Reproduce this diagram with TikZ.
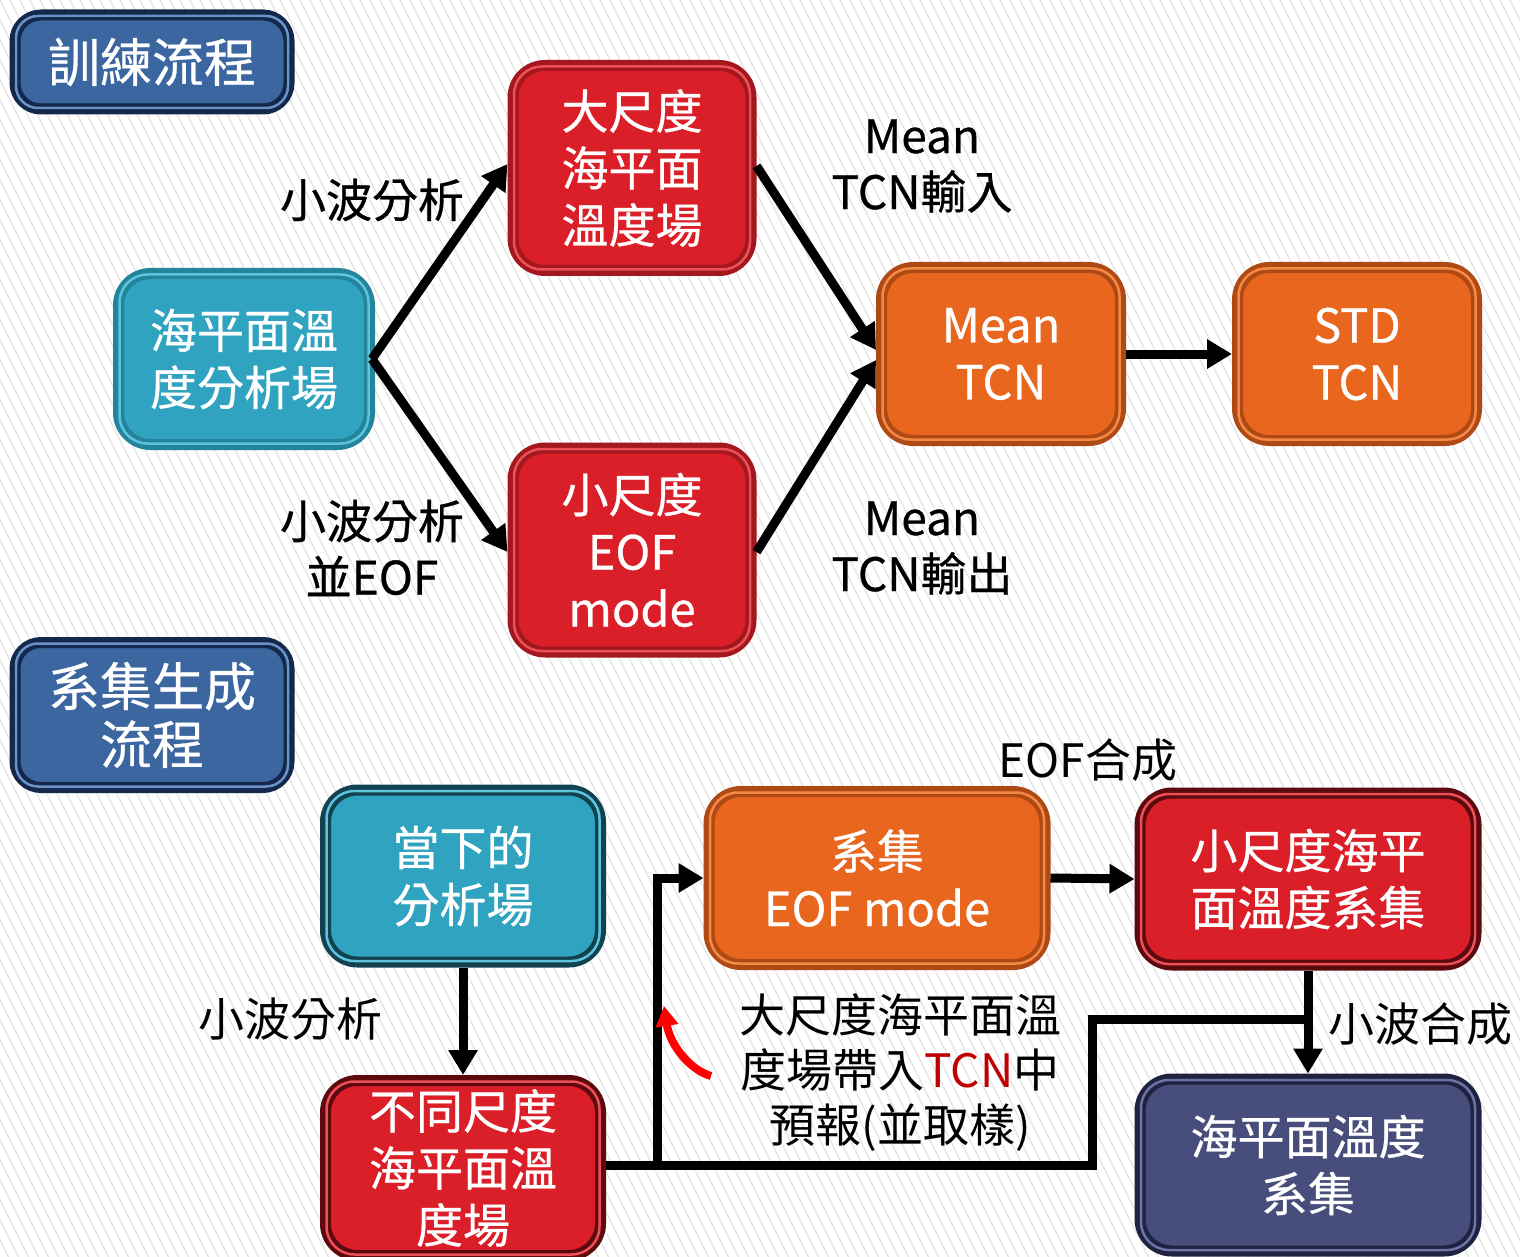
\documentclass[tikz,border=0pt]{standalone}
\usepackage{fontspec}
\setmainfont{Noto Sans CJK TC}
\newfontfamily\medf[FakeBold=0.6]{Noto Sans CJK TC}
\usetikzlibrary{arrows.meta}
\definecolor{cblue}{HTML}{3B66A0}
\definecolor{cbluedk}{HTML}{13284A}
\definecolor{cbluelt}{HTML}{6A93C8}
\definecolor{cteal}{HTML}{2FA3BF}
\definecolor{ctealdk}{HTML}{23849C}
\definecolor{ctealdd}{HTML}{12414F}
\definecolor{cteallt}{HTML}{5CC4DC}
\definecolor{cred}{HTML}{DA1F29}
\definecolor{creddk}{HTML}{A3171F}
\definecolor{creddd}{HTML}{5C0A0E}
\definecolor{credlt}{HTML}{EE5058}
\definecolor{corg}{HTML}{E8661E}
\definecolor{corgdk}{HTML}{B04A14}
\definecolor{corglt}{HTML}{F58A48}
\definecolor{cnavy}{HTML}{474E7C}
\definecolor{cnavydk}{HTML}{1F2240}
\definecolor{cnavylt}{HTML}{6C74A8}
\definecolor{chatch}{HTML}{E4E4E4}
\definecolor{tcnred}{HTML}{C00000}
\newcommand\boxdeco[4]{%
  \draw[#2, line width=2.5pt, rounded corners=#4] ([shift={(6.5,6.5)}]#1.north west) rectangle ([shift={(-6.5,-6.5)}]#1.south east);
  \draw[#3, line width=1.5pt, rounded corners=#4] ([shift={(9,9)}]#1.north west) rectangle ([shift={(-9,-9)}]#1.south east);
}
\begin{document}
\begin{tikzpicture}[x=1pt,y=-1pt,
  box/.style={rounded corners=32, line width=11pt, align=center, inner sep=0, text=white,
    font=\medf\fontsize{47}{57}\selectfont},
  titlebox/.style={box, rounded corners=26, font=\medf\fontsize{52}{58}\selectfont},
  lblmed/.style={align=center, inner sep=0, font=\medf\fontsize{46}{56}\selectfont},
  lbl/.style={align=center, inner sep=0, font=\fontsize{46}{55}\selectfont},
  arr/.style={line width=9pt, -{Triangle[length=25pt,width=28pt]}},
  conn/.style={line width=9pt},
  hatch/.style={chatch, line width=1.2pt}]
\useasboundingbox (0,0) rectangle (1520,1257);
\begin{scope}
  \clip (0,0) rectangle (1520,1257);
  \fill[white] (0,0) rectangle (1520,1257);
  \foreach \i in {-660,-650,...,1520} \draw[hatch] (\i,0) -- ++(650,1300);
\end{scope}

% ---------- training flow ----------
\node[titlebox, fill=cblue, draw=cbluedk, minimum width=274, minimum height=94] (t1) at (152,62) {訓練流程};
\boxdeco{t1}{cbluelt}{cbluedk}{22}

\node[box, fill=cteal, draw=ctealdk, minimum width=251, minimum height=171] (ana) at (244,359) {海平面溫\\度分析場};
\boxdeco{ana}{cteallt}{ctealdk}{28}

\node[box, fill=cred, draw=creddk, minimum width=238, minimum height=205] (large) at (632,168) {大尺度\\海平面\\溫度場};
\boxdeco{large}{credlt}{creddk}{28}

\node[box, fill=cred, draw=creddk, minimum width=238, minimum height=204] (small) at (632,550) {小尺度\\EOF\\mode};
\boxdeco{small}{credlt}{creddk}{28}

\node[box, fill=corg, draw=corgdk, minimum width=239, minimum height=173] (mean) at (1001,354) {Mean\\TCN};
\boxdeco{mean}{corglt}{corgdk}{28}

\node[box, fill=corg, draw=corgdk, minimum width=239, minimum height=173] (std) at (1357,354) {STD\\TCN};
\boxdeco{std}{corglt}{corgdk}{28}

\node[lblmed] (l1) at (372,200) {小波分析};
\node[lblmed] (l2) at (372,548) {小波分析\\並EOF};
\node[lblmed] (l3) at (922,166) {Mean\\TCN輸入};
\node[lblmed] (l4) at (922,548) {Mean\\TCN輸出};

\coordinate (aout) at ([xshift=-3]ana.east);
\draw[arr] (aout) -- ([yshift=4]large.west);
\draw[arr] (aout) -- ([yshift=-2]small.west);
\draw[arr] ([yshift=2]large.east) -- ([yshift=4]mean.west);
\draw[arr] ([yshift=-2]small.east) -- ([yshift=-6]mean.west);
\draw[arr] (mean.east) -- (std.west);

% ---------- ensemble flow ----------
\node[titlebox, fill=cblue, draw=cbluedk, minimum width=274, minimum height=145] (t2) at (152,715) {系集生成\\流程};
\boxdeco{t2}{cbluelt}{cbluedk}{22}

\node[box, fill=cteal, draw=ctealdd, minimum width=275, minimum height=172] (cur) at (463,876) {當下的\\分析場};
\boxdeco{cur}{cteallt}{ctealdd}{28}

\node[box, fill=cred, draw=creddd, minimum width=275, minimum height=175] (diff) at (463,1168) {不同尺度\\海平面溫\\度場};
\boxdeco{diff}{credlt}{creddd}{28}

\node[box, fill=corg, draw=corgdk, minimum width=336, minimum height=173] (ens) at (877,878) {系集\\EOF mode};
\boxdeco{ens}{corglt}{corgdk}{28}

\node[box, fill=cred, draw=creddd, minimum width=336, minimum height=172] (sss) at (1308,879) {小尺度海平\\面溫度系集};
\boxdeco{sss}{credlt}{creddd}{28}

\node[box, fill=cnavy, draw=cnavydk, minimum width=336, minimum height=172] (fin) at (1308,1165) {海平面溫度\\系集};
\boxdeco{fin}{cnavylt}{cnavydk}{28}

\node[lbl] (l5) at (1088,760) {EOF合成};
\node[lbl] (l6) at (290,1019) {小波分析};
\node[lbl] (l7) at (1420,1024) {小波合成};
\node[lbl] (note) at (900,1073) {大尺度海平面溫\\度場帶入\textcolor{tcnred}{TCN}中\\預報(並取樣)};

\draw[arr] (cur.south) -- (diff.north);
\coordinate (j1) at (657,1165);
\coordinate (j2) at (1092,1165);
\coordinate (j3) at (1092,1019);
\coordinate (j4) at (sss.south |- j3);
\draw[arr] (diff.east |- j1) -- (j1) |- (ens.west);
\draw[conn] (j1) -- (j2) -- (j3) -- ([xshift=4]j4);
\draw[arr] (ens.east) -- (sss.west);
\draw[arr] (sss.south) -- (fin.north);

\coordinate (ra) at (711,1076);
\coordinate (rb) at (664,1006);
\draw[red, line width=8pt, -{Triangle[length=20pt,width=22pt]}] (ra) .. controls (690,1070) and (670,1045) .. (rb);
\end{tikzpicture}
\end{document}
